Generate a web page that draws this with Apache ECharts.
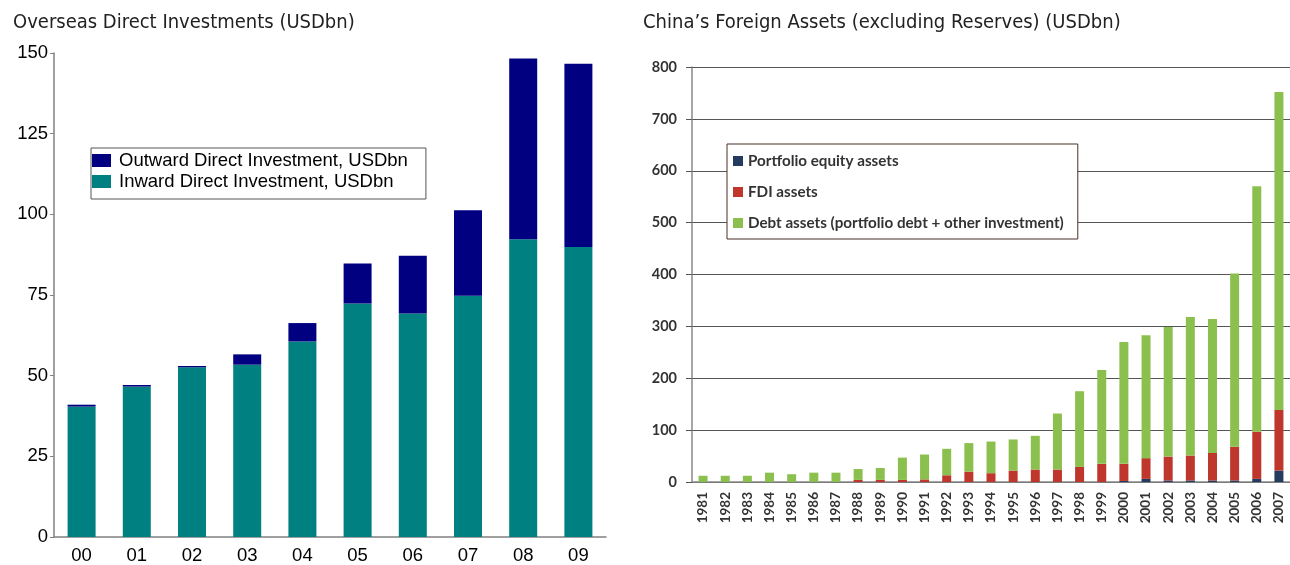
<!DOCTYPE html>
<html>
<head>
<meta charset="utf-8">
<script src="https://cdn.jsdelivr.net/npm/echarts@6/dist/echarts.min.js"></script>
<style>
  html, body { margin: 0; padding: 0; background: #fff; }
  #chart { width: 1290px; height: 565px; }
</style>
</head>
<body>
<div id="chart"></div>
<script>
// left chart: overseas direct investments
const odiYears = ['00', '01', '02', '03', '04', '05', '06', '07', '08', '09'];
const inwardFdi = [40.4, 46.6, 52.6, 53.4, 60.6, 72.4, 69.3, 74.8, 92.3, 89.9];
const outwardOdi = [0.6, 0.5, 0.4, 3.2, 5.7, 12.4, 17.9, 26.5, 56.0, 56.8];
const odiTicks = [0, 25, 50, 75, 100, 125, 150];

// right chart: foreign assets excl. reserves
const assetYears = ['1981', '1982', '1983', '1984', '1985', '1986', '1987', '1988', '1989',
  '1990', '1991', '1992', '1993', '1994', '1995', '1996', '1997', '1998', '1999',
  '2000', '2001', '2002', '2003', '2004', '2005', '2006', '2007'];
const equityAssets = [0, 0, 0, 0, 0, 0, 0, 0, 0,
  0, 0, 0, 0, 0, 0, 0, 0, 0, 0,
  2, 6, 3, 3, 3, 3, 6, 22];
const fdiAssets = [0, 0, 0, 0, 0, 0, 0, 4, 4,
  4, 5, 13, 20, 17, 22, 24, 24, 29, 35,
  33, 40, 46, 48, 53, 65, 91, 117];
const debtAssets = [12, 12, 12, 18, 15, 18, 18, 21, 23,
  43, 48, 51, 55, 61, 60, 65, 108, 146, 181,
  235, 237, 250, 267, 258, 334, 473, 613];

const titleFont = '"DejaVu Sans Condensed", "Roboto", sans-serif';
const leftFont = '"Liberation Sans", Arial, sans-serif';
const rightFont = 'Lato, "Open Sans", sans-serif';

let chart = echarts.init(document.getElementById('chart'));

const option = {
  animation: false,
  backgroundColor: '#fff',
  title: [
    {
      text: 'Overseas Direct Investments (USDbn)',
      left: 8, top: 8,
      textStyle: { fontFamily: titleFont, fontSize: 20, fontWeight: 'normal', color: '#222' }
    },
    {
      text: 'China\u2019s Foreign Assets (excluding Reserves) (USDbn)',
      left: 638, top: 8,
      textStyle: { fontFamily: titleFont, fontSize: 20, fontWeight: 'normal', color: '#222' }
    }
  ],
  legend: [
    {
      data: ['Outward Direct Investment, USDbn', 'Inward Direct Investment, USDbn'],
      orient: 'vertical',
      left: 91, top: 148,
      itemWidth: 19, itemHeight: 13, itemGap: 2,
      padding: [3, 18, 8, 1],
      borderColor: '#555', borderWidth: 1,
      backgroundColor: '#fff',
      icon: 'rect',
      textStyle: { fontFamily: leftFont, fontSize: 18.5, lineHeight: 14, color: '#000', padding: [0, 0, 0, 3] }
    },
    {
      data: ['Portfolio equity assets', 'FDI assets', 'Debt assets (portfolio debt + other investment)'],
      orient: 'vertical',
      left: 727, top: 144,
      itemWidth: 10, itemHeight: 10, itemGap: 15,
      padding: [9, 14, 8, 6],
      borderColor: '#4a3028', borderWidth: 1,
      backgroundColor: '#fff',
      icon: 'rect',
      textStyle: { fontFamily: rightFont, fontSize: 15.2, lineHeight: 16, fontWeight: 'bold', color: '#333' }
    }
  ],
  grid: [
    { left: 54, top: 53, width: 552, height: 485 },
    { left: 692, top: 67, width: 607, height: 415 }
  ],
  xAxis: [
    {
      type: 'category', gridIndex: 0, data: odiYears,
      axisLine: { lineStyle: { color: '#808080', width: 1.5 } },
      axisTick: { length: 5, lineStyle: { color: '#808080' } },
      axisLabel: { fontFamily: leftFont, fontSize: 18.5, color: '#000', margin: 9 }
    },
    {
      type: 'category', gridIndex: 1, data: assetYears,
      axisLine: { lineStyle: { color: '#888', width: 1.5 } },
      axisTick: { length: 5, lineStyle: { color: '#666' } },
      axisLabel: { rotate: 90, fontFamily: rightFont, fontSize: 13.5, fontWeight: 'bold', color: '#333', margin: 10 }
    }
  ],
  yAxis: [
    {
      type: 'value', gridIndex: 0, min: odiTicks[0], max: odiTicks[odiTicks.length - 1], interval: 25,
      axisLine: { show: true, lineStyle: { color: '#808080', width: 1.5 } },
      axisTick: { show: true, length: 4, lineStyle: { color: '#808080' } },
      splitLine: { show: false },
      axisLabel: { fontFamily: leftFont, fontSize: 18.5, color: '#000', margin: 6 }
    },
    {
      type: 'value', gridIndex: 1, min: 0, max: 800, interval: 100,
      axisLine: { show: true, lineStyle: { color: '#888', width: 1.5 } },
      axisTick: { show: true, length: 6, lineStyle: { color: '#555' } },
      splitLine: { show: true, lineStyle: { color: '#555', width: 1.2 } },
      axisLabel: { fontFamily: rightFont, fontSize: 14.5, fontWeight: 'bold', color: '#333', margin: 15 }
    }
  ],
  series: [
    {
      name: 'Inward Direct Investment, USDbn', type: 'bar', stack: 'odi',
      xAxisIndex: 0, yAxisIndex: 0, barWidth: 28,
      itemStyle: { color: '#008080' }, data: inwardFdi
    },
    {
      name: 'Outward Direct Investment, USDbn', type: 'bar', stack: 'odi',
      xAxisIndex: 0, yAxisIndex: 0, barWidth: 28,
      itemStyle: { color: '#000080' }, data: outwardOdi
    },
    {
      name: 'Portfolio equity assets', type: 'bar', stack: 'assets',
      xAxisIndex: 1, yAxisIndex: 1, barWidth: 9,
      itemStyle: { color: '#243a5e' }, data: equityAssets
    },
    {
      name: 'FDI assets', type: 'bar', stack: 'assets',
      xAxisIndex: 1, yAxisIndex: 1, barWidth: 9,
      itemStyle: { color: '#bf362c' }, data: fdiAssets
    },
    {
      name: 'Debt assets (portfolio debt + other investment)', type: 'bar', stack: 'assets',
      xAxisIndex: 1, yAxisIndex: 1, barWidth: 9,
      itemStyle: { color: '#8cc04e' }, data: debtAssets
    }
  ]
};

chart.setOption(option);
</script>
</body>
</html>
